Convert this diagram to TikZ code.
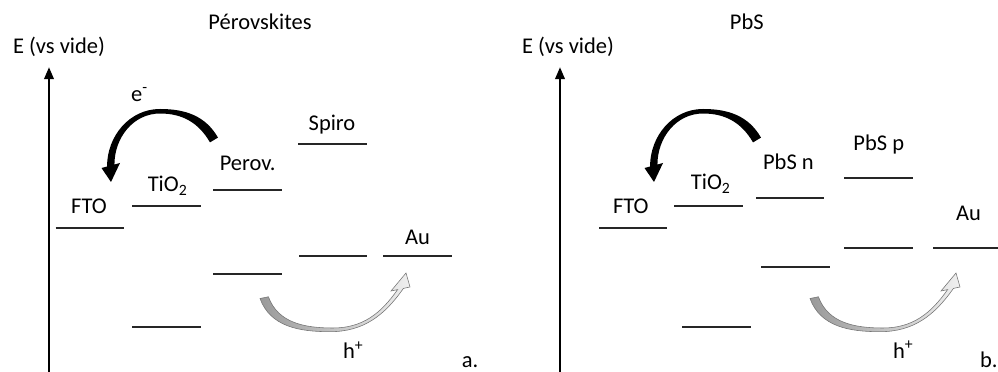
\documentclass[tikz,border=0pt]{standalone}
\usepackage{fontspec}
\setmainfont{Carlito}
\usetikzlibrary{positioning, arrows.meta}

\begin{document}
\begin{tikzpicture}[
    lab/.style = {anchor=base, inner sep=0pt, font=\fontsize{16}{19}\selectfont},
    level/.style = {line width=1.4pt, draw=black!85},
    axis/.style = {line width=1.5pt, -{Triangle[width=0.24cm, length=0.3cm]}},
    % fleche electrons (noire)
    e_arrow/.style = {fill=black},
    % fleche trous (grise)
    h_arrow/.style = {draw=black!55, line width=0.4pt, left color=black!40, right color=black!6}
]
\useasboundingbox (0,0) rectangle (24.95,9.3);

% --- Panneau a : Perovskites ---
\node[lab] (title_a) at (6.5, 8.57) {Pérovskites};
\node[lab] (E_a) at (1.475, 7.95) {E (vs vide)};
\coordinate (axis_a_bot) at (1.225, -0.1);
\coordinate (axis_a_top) at (1.225, 7.62);
\draw[axis] (axis_a_bot) -- (axis_a_top);

% niveaux
\draw[level] (1.39, 3.59) -- ++(1.71, 0);
\node[lab] (fto_a) at (2.225, 3.967) {FTO};
\draw[level] (3.31, 4.16) -- ++(1.71, 0);
\draw[level] (3.31, 1.12) -- ++(1.71, 0);
\node[lab] (tio2_a) at (4.19, 4.51) {TiO\textsubscript{2}};
\draw[level] (5.33, 4.54) -- ++(1.71, 0);
\draw[level] (5.33, 2.44) -- ++(1.71, 0);
\node[lab] (perov_a) at (6.19, 5.03) {Perov.};
\draw[level] (7.46, 5.69) -- ++(1.71, 0);
\draw[level] (7.475, 2.91) -- ++(1.71, 0);
\node[lab] (spiro_a) at (8.3, 6.03) {Spiro};
\draw[level] (9.58, 2.91) -- ++(1.73, 0);
\node[lab] (au_a) at (10.44, 3.175) {Au};

% transferts
\node[lab] (e_a) at (3.49, 6.76) {e\textsuperscript{-}};
\fill[e_arrow] (5.45,5.86) to[out=120,in=0] (4.0,6.575) to[out=180,in=90] (2.676,5.1375)
    -- (2.5375,5.1) -- (2.775,4.75) -- (3.0,5.225) -- (2.861,5.1875)
    to[out=90,in=180] (4.0,6.4625) to[out=0,in=120] (5.25,5.74) -- cycle;
\draw[h_arrow] (6.5,1.8375) to[out=-70,in=180] (8.25,1.0075) to[out=0,in=235] (10.085,2.09)
    -- (10.25,2.125) -- (10.15,2.475) -- (9.775,2.025) -- (9.94,2.06)
    to[out=235,in=0] (8.325,1.1) to[out=180,in=-70] (6.71,1.88) -- cycle;
\node[lab] (h_a) at (8.83, 0.325) {h\textsuperscript{+}};
\node[lab] (tag_a) at (11.75, 0.1) {a.};

% --- Panneau b : PbS ---
\node[lab] (title_b) at (18.67, 8.55) {PbS};
\node[lab] (E_b) at (14.2, 7.95) {E (vs vide)};
\coordinate (axis_b_bot) at (14.0, -0.1);
\coordinate (axis_b_top) at (14.0, 7.62);
\draw[axis] (axis_b_bot) -- (axis_b_top);

% niveaux
\draw[level] (14.975, 3.59) -- ++(1.71, 0);
\node[lab] (fto_b) at (15.77, 3.967) {FTO};
\draw[level] (16.86, 4.16) -- ++(1.71, 0);
\draw[level] (17.06, 1.13) -- ++(1.71, 0);
\node[lab] (tio2_b) at (17.77, 4.55) {TiO\textsubscript{2}};
\draw[level] (18.9, 4.35) -- ++(1.71, 0);
\draw[level] (19.03, 2.62) -- ++(1.71, 0);
\node[lab] (pbsn_b) at (19.71, 5.05) {PbS n};
\draw[level] (21.11, 4.85) -- ++(1.71, 0);
\draw[level] (21.11, 3.09) -- ++(1.71, 0);
\node[lab] (pbsp_b) at (21.97, 5.525) {PbS p};
\draw[level] (23.33, 3.09) -- ++(1.8, 0);
\node[lab] (au_b) at (24.21, 3.78) {Au};

% transferts
\fill[e_arrow, xshift=13.575cm] (5.45,5.86) to[out=120,in=0] (4.0,6.575) to[out=180,in=90] (2.676,5.1375)
    -- (2.5375,5.1) -- (2.775,4.75) -- (3.0,5.225) -- (2.861,5.1875)
    to[out=90,in=180] (4.0,6.4625) to[out=0,in=120] (5.25,5.74) -- cycle;
\draw[h_arrow, xshift=13.75cm] (6.5,1.8375) to[out=-70,in=180] (8.25,1.0075) to[out=0,in=235] (10.085,2.09)
    -- (10.25,2.125) -- (10.15,2.475) -- (9.775,2.025) -- (9.94,2.06)
    to[out=235,in=0] (8.325,1.1) to[out=180,in=-70] (6.71,1.88) -- cycle;
\node[lab] (h_b) at (22.58, 0.34) {h\textsuperscript{+}};
\node[lab] (tag_b) at (24.72, 0.1) {b.};

\end{tikzpicture}
\end{document}
